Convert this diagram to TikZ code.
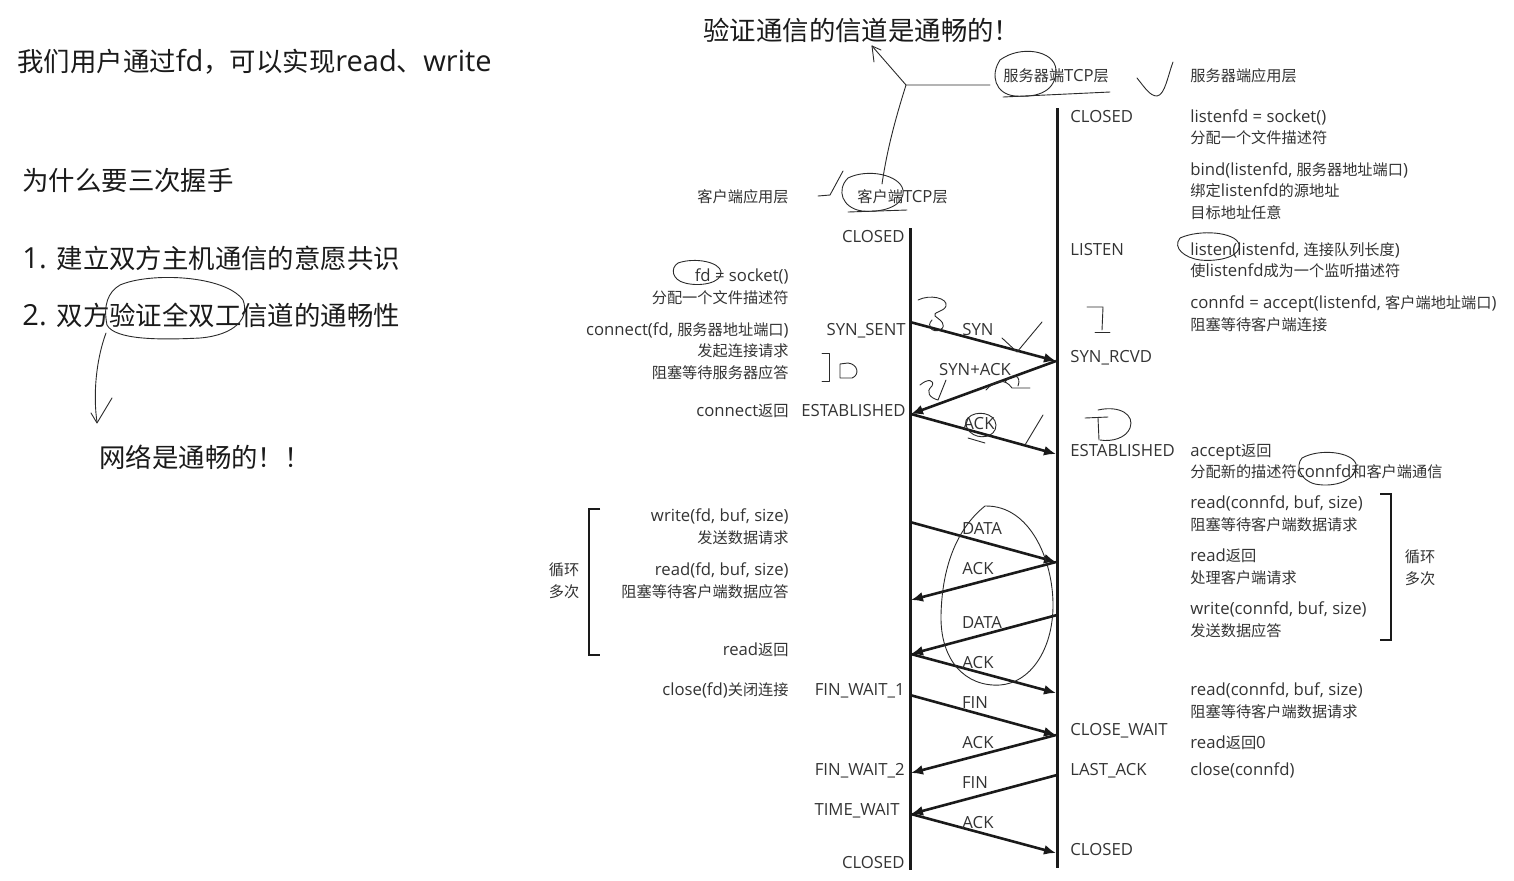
\documentclass[tikz,border=0pt]{standalone}
\usepackage{fontspec}
\setmainfont{Open Sans}[Scale=1.1]
\newfontfamily\cjkf{Noto Sans CJK SC}
\newfontfamily\latf{Open Sans}[Scale=1.1]
\XeTeXinterchartokenstate=1
\newXeTeXintercharclass\CJKcls
\newcount\cjkcc
\cjkcc="4E00
\loop \XeTeXcharclass\cjkcc=\CJKcls \advance\cjkcc by 1 \ifnum\cjkcc<"A000 \repeat
\cjkcc="3000
\loop \XeTeXcharclass\cjkcc=\CJKcls \advance\cjkcc by 1 \ifnum\cjkcc<"3040 \repeat
\cjkcc="FF00
\loop \XeTeXcharclass\cjkcc=\CJKcls \advance\cjkcc by 1 \ifnum\cjkcc<"FFF0 \repeat
\XeTeXinterchartoks 0 \CJKcls = {\cjkf}
\XeTeXinterchartoks 4095 \CJKcls = {\cjkf}
\XeTeXinterchartoks \CJKcls 0 = {\latf}
\usetikzlibrary{arrows.meta}
\definecolor{txt}{HTML}{333333}
\definecolor{ink}{HTML}{1A1A1A}
\definecolor{pen}{HTML}{2A2A2A}
\begin{document}
\begin{tikzpicture}[x=0.5pt,y=-0.5pt,
  lbl/.style={inner sep=0pt, text=txt, font=\fontsize{7.6}{9}\selectfont, text height=7pt, text depth=1pt},
  lw/.style={lbl, anchor=west},
  le/.style={lbl, anchor=east},
  big/.style={inner sep=0pt, text=ink, font=\fontsize{13.2}{16}\selectfont, anchor=west, text height=12pt, text depth=2pt},
  life/.style={line width=1.5pt, draw=ink},
  msg/.style={line width=1.3pt, draw=ink, -{Latex[length=6pt,width=5pt]}},
  hand/.style={line width=0.45pt, draw=pen, line cap=round, line join=round},
  bracket/.style={line width=1.2pt, draw=ink}]
\useasboundingbox (0,0) rectangle (1514,880);

% ---------- left notes ----------
\node[big] (n1) at (17,61) {我们用户通过fd，可以实现read、write};
\node[big] (n2) at (22,180) {为什么要三次握手};
\node[big] (n3) at (22,258) {1. 建立双方主机通信的意愿共识};
\node[big] (n4) at (22,315) {2. 双方验证全双工信道的通畅性};
\node[big] (n5) at (99,457) {网络是通畅的！！};
\node[big] (title) at (703,30) {验证通信的信道是通畅的！};

% ---------- headers ----------
\node[lw] (stcp) at (1003,75) {服务器端TCP层};
\node[lw] (sapp) at (1190,75) {服务器端应用层};
\node[le] (capp) at (789,196) {客户端应用层};
\node[lw] (ctcp) at (857,196) {客户端TCP层};

% ---------- lifelines ----------
\coordinate (ctop) at (910,228);
\coordinate (cbot) at (910,870);
\coordinate (stop) at (1057,108);
\coordinate (sbot) at (1057,868);
\draw[life] (ctop) -- (cbot);
\draw[life] (stop) -- (sbot);

% ---------- client states ----------
\node[le] (cs1) at (905,236) {CLOSED};
\node[le] (cs2) at (906,329) {SYN\_SENT};
\node[le] (cs3) at (906,410) {ESTABLISHED};
\node[le] (cs4) at (905,689) {FIN\_WAIT\_1};
\node[le] (cs5) at (905,769) {FIN\_WAIT\_2};
\node[le] (cs6) at (900,809) {TIME\_WAIT};
\node[le] (cs7) at (905,862) {CLOSED};

% ---------- server states ----------
\node[lw] (ss1) at (1070,116) {CLOSED};
\node[lw] (ss2) at (1070,249) {LISTEN};
\node[lw] (ss3) at (1070,356) {SYN\_RCVD};
\node[lw] (ss4) at (1070,450) {ESTABLISHED};
\node[lw] (ss5) at (1070,729) {CLOSE\_WAIT};
\node[lw] (ss6) at (1070,769) {LAST\_ACK};
\node[lw] (ss7) at (1070,849) {CLOSED};

% ---------- client application text ----------
\node[le] (ca1) at (789,275) {fd = socket()};
\node[le] (ca2) at (789,297) {分配一个文件描述符};
\node[le] (ca3) at (789,329) {connect(fd, 服务器地址端口)};
\node[le] (ca4) at (789,350) {发起连接请求};
\node[le] (ca5) at (789,372) {阻塞等待服务器应答};
\node[le] (ca6) at (789,410) {connect返回};
\node[le] (ca7) at (789,515) {write(fd, buf, size)};
\node[le] (ca8) at (789,537) {发送数据请求};
\node[le] (ca9) at (789,569) {read(fd, buf, size)};
\node[le] (ca10) at (789,591) {阻塞等待客户端数据应答};
\node[le] (ca11) at (789,649) {read返回};
\node[le] (ca12) at (789,689) {close(fd)关闭连接};

% ---------- server application text ----------
\node[lw] (sa1) at (1190,116) {listenfd = socket()};
\node[lw] (sa2) at (1190,137) {分配一个文件描述符};
\node[lw] (sa3) at (1190,169) {bind(listenfd, 服务器地址端口)};
\node[lw] (sa4) at (1190,190) {绑定listenfd的源地址};
\node[lw] (sa5) at (1190,212) {目标地址任意};
\node[lw] (sa6) at (1190,249) {listen(listenfd, 连接队列长度)};
\node[lw] (sa7) at (1190,270) {使listenfd成为一个监听描述符};
\node[lw] (sa8) at (1190,302) {connfd = accept(listenfd, 客户端地址端口)};
\node[lw] (sa9) at (1190,324) {阻塞等待客户端连接};
\node[lw] (sa10) at (1190,450) {accept返回};
\node[lw] (sa11) at (1190,471) {分配新的描述符connfd和客户端通信};
\node[lw] (sa12) at (1190,502) {read(connfd, buf, size)};
\node[lw] (sa13) at (1190,524) {阻塞等待客户端数据请求};
\node[lw] (sa14) at (1190,555) {read返回};
\node[lw] (sa15) at (1190,577) {处理客户端请求};
\node[lw] (sa16) at (1190,608) {write(connfd, buf, size)};
\node[lw] (sa17) at (1190,630) {发送数据应答};
\node[lw] (sa18) at (1190,689) {read(connfd, buf, size)};
\node[lw] (sa19) at (1190,711) {阻塞等待客户端数据请求};
\node[lw] (sa20) at (1190,742) {read返回0};
\node[lw] (sa21) at (1190,769) {close(connfd)};

% ---------- loop brackets ----------
\coordinate (lb1) at (600,509);
\coordinate (lb2) at (589,509);
\coordinate (lb3) at (589,655);
\coordinate (lb4) at (600,655);
\draw[bracket] (lb1) -- (lb2) -- (lb3) -- (lb4);
\node[lbl] (lloop1) at (564,569) {循环};
\node[lbl] (lloop2) at (564,591) {多次};
\coordinate (rb1) at (1380,494);
\coordinate (rb2) at (1391,494);
\coordinate (rb3) at (1391,640);
\coordinate (rb4) at (1380,640);
\draw[bracket] (rb1) -- (rb2) -- (rb3) -- (rb4);
\node[lbl] (rloop1) at (1420,556) {循环};
\node[lbl] (rloop2) at (1420,578) {多次};

% ---------- message points ----------
\coordinate (c1) at (910,322);  \coordinate (s1) at (1056,361);
\coordinate (c2) at (911,414);  \coordinate (s2) at (1056,454);
\coordinate (c3) at (910,522);  \coordinate (s3) at (1056,562);
\coordinate (c4) at (911,600);  \coordinate (s4) at (1057,615);
\coordinate (c5) at (911,654);  \coordinate (s5) at (1056,693);
\coordinate (c6) at (910,695);  \coordinate (s6) at (1056,735);
\coordinate (c7) at (911,773);  \coordinate (s7) at (1057,775);
\coordinate (c8) at (911,814);  \coordinate (s8) at (1056,853);

\draw[msg] (c1) -- (s1);
\draw[msg] (s1) -- (c2);
\draw[msg] (c2) -- (s2);
\draw[msg] (c3) -- (s3);
\draw[msg] (s3) -- (c4);
\draw[msg] (s4) -- (c5);
\draw[msg] (c5) -- (s5);
\draw[msg] (c6) -- (s6);
\draw[msg] (s6) -- (c7);
\draw[msg] (s7) -- (c8);
\draw[msg] (c8) -- (s8);

\node[lbl] (m1) at (978,329) {SYN};
\node[lbl] (m2) at (975,369) {SYN+ACK};
\node[lbl] (m3) at (979,423) {ACK};
\node[lbl] (m4) at (982,528) {DATA};
\node[lbl] (m5) at (978,568) {ACK};
\node[lbl] (m6) at (982,622) {DATA};
\node[lbl] (m7) at (978,662) {ACK};
\node[lbl] (m8) at (975,702) {FIN};
\node[lbl] (m9) at (978,742) {ACK};
\node[lbl] (m10) at (975,782) {FIN};
\node[lbl] (m11) at (978,822) {ACK};

% ---------- handwritten annotations ----------
% ellipse around 验证全双工 and arrow down
\draw[hand] (120,285) .. controls (150,272) and (225,275) .. (243,300)
  .. controls (250,318) and (235,335) .. (200,338)
  .. controls (160,340) and (115,340) .. (107,325)
  .. controls (103,305) and (108,292) .. (120,285);
\draw[hand] (106,333) .. controls (96,360) and (93,395) .. (97,422);
\draw[hand] (91,413) -- (97,423) -- (112,398);
% branch lines to the title
\coordinate (hj) at (906,85);
\coordinate (ht) at (872,46);
\draw[hand] (990,85) -- (hj) -- (ht);
\draw[hand] (hj) .. controls (895,120) and (887,150) .. (882,184);
\draw[hand] (872,46) -- (874,62);
\draw[hand] (872,46) -- (881,50);
% circle + underline server TCP
\draw[hand] (1000,60) .. controls (1020,45) and (1055,50) .. (1056,70)
  .. controls (1056,90) and (1040,98) .. (1015,96)
  .. controls (995,94) and (990,75) .. (1000,60);
\draw[hand] (1003,97) -- (1110,92);
% check mark
\draw[hand] (1137,78) .. controls (1145,88) and (1150,96) .. (1157,96)
  .. controls (1165,95) and (1168,75) .. (1173,62);
% circle + underline client TCP
\draw[hand] (848,178) .. controls (868,168) and (900,175) .. (903,190)
  .. controls (905,205) and (885,213) .. (862,211)
  .. controls (842,208) and (836,190) .. (848,178);
\draw[hand] (818,196) -- (830,195) -- (843,171);
\draw[hand] (848,212) -- (907,210);
% fd = circle
\draw[hand] (678,263) .. controls (695,257) and (720,262) .. (721,272)
  .. controls (722,283) and (700,287) .. (685,283)
  .. controls (672,280) and (670,268) .. (678,263);
% listen circle
\draw[hand] (1180,238) .. controls (1200,229) and (1235,232) .. (1239,244)
  .. controls (1242,256) and (1220,262) .. (1200,260)
  .. controls (1185,258) and (1172,248) .. (1180,238);
% connfd circle
\draw[hand] (1302,458) .. controls (1320,448) and (1352,452) .. (1356,464)
  .. controls (1358,480) and (1335,488) .. (1315,484)
  .. controls (1300,480) and (1295,466) .. (1302,458);
% big egg around DATA/ACK exchange
\draw[hand] (985,506) .. controls (1030,505) and (1053,560) .. (1053,605)
  .. controls (1053,650) and (1030,683) .. (1000,685)
  .. controls (965,687) and (940,660) .. (941,615)
  .. controls (942,570) and (955,530) .. (985,506);
% scribbles near the handshake
\draw[hand] (918,300) .. controls (930,294) and (948,298) .. (946,306)
  .. controls (944,312) and (932,312) .. (935,316)
  .. controls (940,320) and (948,325) .. (940,330)
  .. controls (932,333) and (926,326) .. (932,320);
\draw[hand] (822,353) -- (829,353) -- (829,381) -- (822,381);
\draw[hand] (840,364) -- (840,378) -- (852,378) .. controls (860,375) and (858,364) .. (848,363) -- (840,364);
\draw[hand] (1002,338) -- (1017,352) -- (1042,322);
\draw[hand] (1087,307) -- (1103,307) -- (1102,330);
\draw[hand] (1095,332) -- (1110,332);
\draw[hand] (1085,418) -- (1108,417);
\draw[hand] (1098,418) -- (1099,440);
\draw[hand] (1098,410) .. controls (1120,405) and (1135,415) .. (1130,428)
  .. controls (1126,438) and (1112,442) .. (1100,440);
\draw[hand] (920,385) .. controls (928,378) and (935,380) .. (932,386)
  .. controls (925,392) and (930,398) .. (938,400) -- (946,380);
\draw[hand] (986,390) .. controls (995,380) and (1005,378) .. (1012,388) -- (1030,388);
\draw[hand] (1005,382) .. controls (1012,372) and (1022,375) .. (1018,386);
\draw[hand] (968,418) .. controls (975,410) and (995,412) .. (996,425)
  .. controls (996,438) and (978,440) .. (970,432) .. controls (964,425) and (965,420) .. (968,418);
\draw[hand] (968,438) -- (985,443);
\draw[hand] (1025,445) -- (1043,415);
\end{tikzpicture}
\end{document}
